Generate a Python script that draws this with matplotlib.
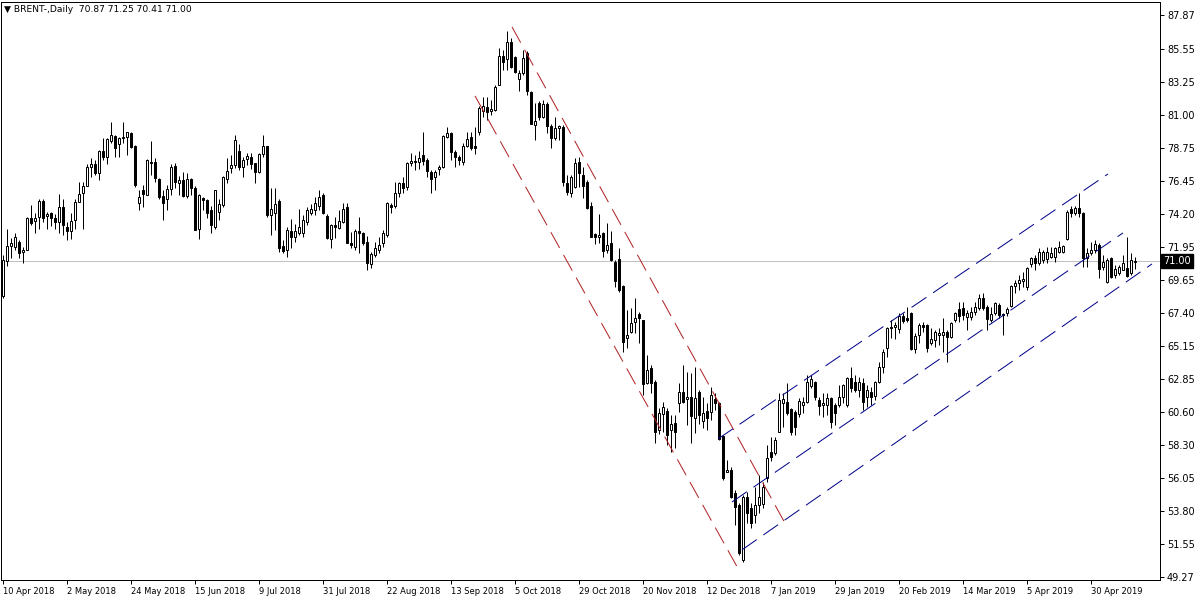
import matplotlib.pyplot as plt
from matplotlib import transforms

title = "BRENT-,Daily  70.87 71.25 70.41 71.00"
last_price = 71.00

# daily candles, 10 Apr 2018 .. mid May 2019
opens = [
    68.55, 71.00, 72.00, 71.90, 72.30, 71.60, 71.70, 73.90, 73.70, 74.00,
    75.10, 74.05, 74.30, 73.95, 73.65, 74.70, 73.30, 73.00, 73.80, 75.00,
    75.65, 76.10, 77.45, 77.65, 77.00, 78.50, 78.10, 79.20, 79.55, 79.00,
    79.50, 79.50, 79.75, 78.85, 74.95, 75.85, 75.50, 77.80, 77.80, 76.60,
    75.45, 75.20, 75.90, 77.50, 76.30, 76.55, 75.45, 76.60, 76.00, 73.20,
    75.30, 75.15, 74.50, 73.30, 74.35, 74.80, 76.60, 77.35, 77.55, 78.55,
    77.45, 77.95, 78.10, 77.70, 77.10, 78.30, 78.85, 74.10, 74.30, 75.10,
    72.00, 71.75, 73.05, 72.60, 72.90, 72.90, 73.65, 74.30, 74.50, 74.75,
    75.50, 74.05, 72.50, 73.45, 73.25, 73.65, 74.70, 72.20, 71.95, 73.00,
    72.90, 72.30, 70.75, 71.40, 71.75, 72.20, 72.75, 74.85, 74.75, 75.65,
    76.35, 76.05, 77.70, 77.85, 77.75, 78.25, 77.90, 77.10, 76.75, 77.30,
    77.40, 79.50, 79.75, 78.45, 78.10, 77.75, 78.90, 79.50, 78.85, 79.80,
    81.30, 81.55, 81.30, 81.35, 83.05, 85.05, 84.85, 86.00, 84.95, 83.50,
    83.90, 85.25, 82.60, 80.30, 81.80, 80.85, 81.75, 80.25, 79.40, 80.10,
    80.20, 76.30, 75.65, 76.05, 77.75, 76.90, 76.40, 74.75, 72.80, 72.60,
    72.90, 71.75, 72.20, 70.90, 71.10, 69.25, 65.70, 66.10, 66.80, 67.35,
    66.90, 62.60, 63.60, 62.65, 59.35, 60.45, 60.70, 59.35, 59.85, 61.25,
    61.95, 61.50, 61.65, 60.20, 61.95, 59.98, 60.65, 60.60, 61.50, 61.20,
    58.95, 56.50, 56.60, 55.05, 54.20, 50.45, 54.75, 54.00, 53.50, 54.20,
    54.30, 56.05, 57.85, 57.80, 59.25, 61.20, 61.30, 60.80, 60.60, 60.45,
    61.05, 61.30, 62.40, 62.65, 61.45, 61.10, 61.10, 61.55, 61.05, 61.05,
    61.65, 61.05, 62.95, 62.65, 62.10, 62.60, 61.65, 61.95, 61.70, 62.65,
    63.70, 65.00, 66.45, 66.45, 66.30, 67.20, 67.05, 67.40, 64.95, 65.90,
    66.60, 66.60, 65.35, 65.55, 65.90, 65.90, 66.10, 65.75, 66.95, 67.65,
    67.75, 67.10, 67.10, 67.45, 67.75, 68.45, 67.80, 66.95, 67.40, 67.95,
    67.35, 67.40, 67.85, 69.25, 69.45, 69.60, 69.20, 70.75, 71.20, 70.85,
    71.05, 71.10, 71.25, 71.25, 71.60, 71.60, 72.50, 74.55, 74.25, 74.60,
    74.25, 71.20, 71.55, 71.75, 72.05, 70.55, 69.55, 71.20, 70.00, 70.15,
    70.35, 70.50, 70.15, 70.87,
]
highs = [
    71.40, 73.20, 72.55, 72.90, 72.40, 71.90, 74.00, 74.80, 74.30, 75.20,
    75.20, 74.35, 74.35, 74.20, 75.60, 75.20, 73.65, 74.30, 75.20, 76.40,
    76.40, 77.60, 78.05, 77.90, 78.60, 79.40, 79.40, 80.50, 79.60, 79.50,
    80.50, 79.85, 79.80, 78.95, 75.85, 76.20, 78.00, 79.20, 78.05, 76.70,
    75.85, 76.20, 77.60, 77.70, 76.80, 77.10, 77.00, 76.70, 76.15, 75.60,
    75.40, 75.20, 74.75, 75.85, 75.20, 76.80, 78.05, 78.25, 79.60, 79.00,
    78.10, 78.40, 78.40, 77.70, 78.40, 79.60, 78.85, 76.00, 76.00, 75.20,
    72.40, 73.30, 73.85, 73.50, 74.55, 74.15, 74.70, 74.90, 75.40, 75.85,
    75.65, 74.20, 73.50, 74.00, 74.50, 74.95, 74.95, 72.95, 73.20, 74.00,
    72.95, 72.70, 71.60, 72.30, 72.60, 73.10, 75.05, 74.95, 76.40, 76.40,
    76.75, 77.80, 78.40, 78.25, 78.55, 79.80, 78.05, 77.20, 77.20, 77.55,
    79.60, 80.20, 79.80, 78.60, 78.25, 79.05, 79.80, 79.80, 80.20, 81.60,
    82.25, 82.25, 82.00, 83.05, 85.60, 85.45, 86.80, 86.30, 85.05, 84.10,
    85.45, 85.40, 82.65, 81.80, 81.95, 82.05, 81.90, 80.40, 80.85, 80.30,
    80.30, 76.90, 76.90, 78.05, 78.10, 77.45, 76.50, 75.05, 72.90, 74.20,
    72.95, 73.60, 73.05, 71.05, 71.85, 69.30, 67.60, 67.75, 68.45, 67.50,
    66.95, 64.50, 63.80, 62.80, 60.90, 61.30, 60.90, 60.40, 60.40, 62.60,
    63.80, 63.35, 63.30, 63.70, 62.10, 61.65, 61.20, 62.30, 61.90, 61.30,
    59.00, 57.30, 56.80, 55.25, 54.35, 54.90, 55.10, 54.35, 55.45, 56.30,
    55.80, 58.35, 58.90, 58.90, 61.90, 61.90, 62.60, 60.90, 60.75, 61.55,
    61.65, 63.15, 63.15, 62.75, 61.65, 61.90, 61.90, 61.65, 61.20, 62.45,
    62.50, 63.00, 63.70, 63.15, 63.00, 62.95, 62.45, 62.30, 62.75, 64.05,
    64.95, 66.45, 66.90, 66.80, 67.40, 67.40, 67.80, 67.50, 66.05, 66.70,
    66.80, 66.65, 66.40, 66.25, 66.40, 67.05, 66.25, 66.80, 67.50, 68.15,
    68.15, 67.60, 67.80, 68.15, 68.70, 68.75, 67.95, 67.80, 68.15, 68.10,
    67.40, 67.80, 69.30, 69.65, 70.00, 70.20, 70.55, 71.25, 71.40, 71.85,
    71.75, 71.95, 71.95, 71.95, 72.35, 72.05, 74.50, 74.75, 74.75, 75.65,
    74.35, 71.85, 72.30, 72.40, 72.20, 71.40, 71.20, 71.25, 70.70, 70.70,
    71.40, 72.60, 71.50, 71.25,
]
lows = [
    68.40, 70.60, 71.20, 71.70, 71.20, 70.80, 71.70, 73.45, 72.90, 73.20,
    73.65, 73.20, 73.40, 73.20, 72.90, 72.75, 72.40, 72.50, 73.20, 75.00,
    73.20, 76.10, 76.75, 76.90, 76.50, 77.90, 77.60, 79.05, 78.10, 78.10,
    79.10, 78.25, 78.70, 76.05, 74.50, 74.70, 75.50, 76.90, 76.40, 75.20,
    73.80, 74.50, 75.50, 76.00, 75.50, 75.40, 75.30, 75.50, 73.10, 72.50,
    74.50, 73.90, 72.90, 73.20, 73.80, 74.70, 76.35, 77.00, 77.35, 77.20,
    76.75, 77.55, 77.30, 76.35, 77.00, 78.10, 74.00, 72.75, 73.10, 71.60,
    71.50, 71.25, 71.85, 72.30, 72.75, 72.60, 73.45, 74.10, 74.10, 74.50,
    74.20, 72.50, 71.85, 72.55, 73.20, 73.60, 72.20, 71.85, 71.75, 71.55,
    72.05, 70.35, 70.50, 71.25, 71.50, 71.95, 72.60, 74.30, 74.60, 75.35,
    75.65, 75.85, 77.50, 77.20, 77.30, 77.55, 76.75, 75.65, 75.85, 76.90,
    77.35, 79.40, 77.90, 77.45, 77.55, 77.55, 78.80, 78.60, 78.30, 79.60,
    80.85, 80.65, 81.00, 81.30, 83.05, 84.10, 84.10, 84.25, 83.90, 82.65,
    83.75, 82.40, 80.35, 79.30, 80.65, 80.80, 79.75, 78.75, 79.30, 79.30,
    76.10, 75.50, 75.35, 76.00, 76.05, 75.30, 74.55, 72.60, 72.15, 72.20,
    71.25, 71.50, 70.95, 69.20, 68.85, 64.70, 65.00, 66.05, 66.05, 65.35,
    61.75, 62.55, 61.90, 58.50, 59.10, 59.25, 58.35, 57.85, 58.10, 60.60,
    61.25, 59.70, 58.50, 59.15, 59.80, 59.50, 59.35, 60.05, 60.75, 58.70,
    55.95, 56.45, 54.70, 52.85, 50.80, 50.30, 52.95, 52.65, 52.95, 53.65,
    54.00, 55.80, 57.20, 57.65, 59.20, 59.60, 60.40, 59.00, 59.00, 60.25,
    60.55, 61.25, 62.25, 61.45, 60.40, 60.25, 60.40, 59.50, 59.70, 60.95,
    61.20, 60.95, 61.95, 61.95, 61.65, 60.75, 60.95, 61.10, 61.45, 62.60,
    63.30, 64.40, 65.70, 65.60, 66.00, 66.70, 66.80, 64.85, 64.65, 65.35,
    66.10, 64.70, 65.20, 65.05, 65.20, 64.70, 64.05, 65.70, 66.80, 66.80,
    66.90, 66.25, 66.90, 67.25, 67.60, 67.60, 66.25, 66.80, 67.25, 67.05,
    65.90, 67.20, 67.80, 68.80, 69.00, 69.20, 69.00, 70.55, 70.35, 70.70,
    70.80, 70.85, 71.15, 70.90, 71.55, 71.55, 72.40, 74.00, 74.15, 74.00,
    70.55, 70.55, 71.40, 71.55, 69.80, 70.35, 69.45, 69.80, 69.80, 70.00,
    70.35, 69.85, 70.00, 70.41,
]
closes = [
    71.05, 72.00, 72.20, 72.60, 71.50, 71.75, 73.90, 73.60, 73.95, 75.10,
    73.90, 74.20, 73.95, 73.65, 74.70, 73.45, 73.00, 73.70, 75.00, 75.60,
    76.10, 77.40, 77.60, 77.00, 78.55, 78.10, 79.35, 79.60, 78.70, 79.40,
    79.45, 79.80, 78.80, 76.20, 75.40, 75.60, 77.90, 77.70, 76.70, 75.40,
    74.95, 75.90, 77.40, 76.40, 76.50, 75.45, 76.60, 76.00, 73.10, 75.50,
    75.15, 74.30, 73.45, 75.85, 74.90, 76.75, 77.15, 77.55, 79.30, 77.45,
    77.90, 78.20, 77.60, 77.10, 78.30, 78.90, 74.10, 74.55, 74.90, 71.85,
    71.65, 73.10, 72.60, 73.05, 73.30, 73.80, 74.50, 74.55, 74.95, 75.40,
    74.30, 72.55, 73.45, 73.30, 73.75, 74.55, 72.20, 72.05, 73.05, 72.90,
    72.20, 70.85, 71.45, 71.85, 72.10, 72.90, 74.95, 74.70, 75.65, 76.30,
    76.00, 77.70, 77.85, 77.75, 78.05, 77.85, 77.15, 76.60, 77.10, 77.45,
    79.55, 79.75, 78.45, 78.10, 77.90, 78.90, 79.35, 78.75, 78.75, 81.50,
    81.60, 81.20, 81.40, 82.95, 85.05, 84.65, 86.00, 84.30, 83.95, 83.85,
    84.90, 82.65, 80.40, 80.60, 80.85, 81.75, 80.25, 79.40, 80.10, 80.25,
    76.40, 75.70, 76.75, 77.70, 77.00, 76.10, 74.60, 72.60, 72.60, 72.75,
    71.65, 72.05, 71.05, 69.60, 68.98, 65.40, 65.90, 66.70, 67.05, 67.05,
    62.50, 63.50, 62.60, 59.25, 60.50, 60.95, 59.00, 59.80, 59.25, 61.95,
    61.30, 61.65, 60.35, 61.55, 60.40, 60.50, 60.20, 61.75, 61.20, 58.75,
    56.05, 56.60, 54.75, 54.10, 50.90, 54.75, 53.65, 52.95, 54.20, 54.75,
    55.45, 57.45, 57.50, 58.70, 61.45, 61.50, 60.55, 59.25, 59.55, 61.35,
    61.30, 62.65, 62.85, 61.60, 61.00, 61.25, 61.55, 59.90, 60.55, 61.65,
    62.45, 62.95, 62.25, 62.10, 62.65, 61.30, 62.10, 61.65, 62.65, 63.70,
    64.75, 66.35, 66.40, 66.55, 67.20, 66.85, 66.95, 64.95, 65.85, 66.55,
    66.45, 65.00, 65.60, 66.10, 66.05, 66.10, 65.75, 66.70, 67.40, 67.20,
    67.25, 67.40, 67.45, 67.80, 68.45, 67.75, 67.00, 67.35, 68.10, 67.25,
    67.25, 67.65, 69.25, 69.45, 69.65, 69.75, 70.50, 71.20, 70.85, 71.60,
    71.60, 71.60, 71.55, 71.85, 71.95, 72.00, 74.35, 74.25, 74.60, 74.25,
    71.20, 71.55, 71.75, 72.15, 70.45, 70.90, 71.05, 69.90, 70.45, 70.55,
    70.85, 69.95, 71.05, 71.00,
]

date_labels = [
    '10 Apr 2018', '2 May 2018', '24 May 2018', '15 Jun 2018', '9 Jul 2018',
    '31 Jul 2018', '22 Aug 2018', '13 Sep 2018', '5 Oct 2018', '29 Oct 2018',
    '20 Nov 2018', '12 Dec 2018', '7 Jan 2019', '29 Jan 2019', '20 Feb 2019',
    '14 Mar 2019', '5 Apr 2019', '30 Apr 2019',
]
label_every = 16  # bars between date labels

price_ticks = [87.87, 85.55, 83.25, 81.00, 78.75, 76.45, 74.20, 71.95, 69.65,
               67.40, 65.15, 62.85, 60.60, 58.30, 56.05, 53.80, 51.55, 49.27]

# channel lines as (bar, price) end points
red_lines = [
    [(127.25, 87.05), (195.75, 52.84)],
    [(118.0, 82.31), (184.25, 49.61)],
]
blue_lines = [
    [(178.75, 58.75), (276.25, 76.95)],
    [(182.25, 54.42), (280.0, 72.90)],
    [(184.75, 51.13), (287.25, 70.77)],
]

px = 0.72  # one pixel in points at dpi 100

fig = plt.figure(figsize=(12, 6), dpi=100)
ax = fig.add_axes([1 / 1200, 20 / 600, 1159 / 1200, 578 / 600])

n = len(closes)
idx = list(range(n))

ax.axhline(last_price, color='#c0c0c0', linewidth=px, zorder=1)

ax.vlines(idx, lows, highs, color='black', linewidth=px, zorder=2)
bottoms = [min(o, c) for o, c in zip(opens, closes)]
heights = [abs(c - o) for o, c in zip(opens, closes)]
faces = ['white' if c >= o else 'black' for o, c in zip(opens, closes)]
ax.bar(idx, heights, bottom=bottoms, width=0.5, color=faces,
       edgecolor='black', linewidth=px, zorder=3)

for (x0, y0), (x1, y1) in red_lines:
    ax.plot([x0, x1], [y0, y1], color='#b22222', linewidth=px,
            dashes=(18, 8), zorder=4)
for (x0, y0), (x1, y1) in blue_lines:
    ax.plot([x0, x1], [y0, y1], color='#00008b', linewidth=px,
            dashes=(18, 8), zorder=4)

ax.set_xlim(-0.5, 289.25)
ax.set_ylim(49.06, 88.76)

for s in ax.spines.values():
    s.set_linewidth(px)
    s.set_color('black')

ax.yaxis.tick_right()
ax.set_yticks(price_ticks)
ax.set_yticklabels(['%.2f' % p for p in price_ticks], fontsize=7)
ax.tick_params(axis='y', direction='out', length=3, width=px, pad=2)

ax.set_xticks(list(range(0, label_every * len(date_labels), label_every)))
ax.set_xticklabels(date_labels, fontsize=6, ha='left')
ax.tick_params(axis='x', direction='out', length=3, width=px, pad=2)

# current price box on the price scale
tr = transforms.offset_copy(
    transforms.blended_transform_factory(ax.transAxes, ax.transData),
    fig=fig, x=3, y=0, units='dots')
ax.text(1.0, last_price, '%.2f' % last_price, transform=tr, ha='left',
        va='center', color='white', fontsize=7, zorder=5,
        bbox=dict(facecolor='black', edgecolor='black', pad=1.5))

ax.text(0.003, 0.995, '\u25bc ' + title, transform=ax.transAxes,
        ha='left', va='top', fontsize=6.6)

fig.savefig('out.png', dpi=100)
